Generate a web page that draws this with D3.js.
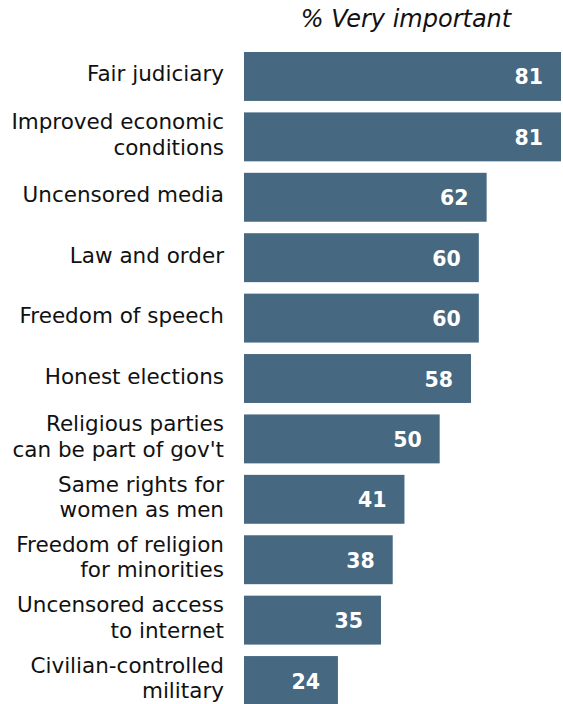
<!DOCTYPE html>
<html>
<head>
<meta charset="utf-8">
<script src="https://cdn.jsdelivr.net/npm/d3@7"></script>
<style>
body { margin: 0; background: #fff; }
text { font-family: "DejaVu Sans", Verdana, sans-serif; }
</style>
</head>
<body>
<script>
"use strict";
const categories = [
	["Fair judiciary"],
	["Improved economic", "conditions"],
	["Uncensored media"],
	["Law and order"],
	["Freedom of speech"],
	["Honest elections"],
	["Religious parties", "can be part of gov't"],
	["Same rights for", "women as men"],
	["Freedom of religion", "for minorities"],
	["Uncensored access", "to internet"],
	["Civilian-controlled", "military"]
];
const values = [81, 81, 62, 60, 60, 58, 50, 41, 38, 35, 24];
const title = "% Very important";

const w = 563, h = 704;
const svg = d3.select("body").append("svg").attr("width", w).attr("height", h);
const x = d3.scaleLinear().domain([0, 81]).range([244, 561]);
const y = d3.scaleBand().domain(d3.range(values.length)).range([52, 705]).paddingInner(0.19).paddingOuter(0);

svg.append("text").attr("x", 406).attr("y", 27).attr("text-anchor", "middle")
	.style("font-style", "italic").style("font-size", "24px").attr("fill", "#111").text(title);

const g = svg.selectAll("g.row").data(values).enter().append("g").attr("class", "row");
g.append("rect")
	.attr("x", x(0))
	.attr("y", (d, i) => y(i))
	.attr("width", d => x(d) - x(0))
	.attr("height", y.bandwidth())
	.attr("fill", "#466880");
g.append("text")
	.attr("x", d => x(d) - 18)
	.attr("y", (d, i) => y(i) + y.bandwidth() / 2 + 8)
	.attr("text-anchor", "end")
	.attr("fill", "#fff")
	.style("font-weight", "bold")
	.style("font-size", "20.5px")
	.text(d => d);
g.each(function(d, i) {
	const lines = categories[i];
	const mid = y(i) + y.bandwidth() / 2;
	const t = d3.select(this).append("text")
		.attr("text-anchor", "end")
		.attr("fill", "#111")
		.style("font-size", "21.5px");
	lines.forEach((s, k) => {
		t.append("tspan").attr("x", 224)
			.attr("y", mid + 5 + (k - (lines.length - 1) / 2) * 25.5)
			.text(s);
	});
});
</script>
</body>
</html>
